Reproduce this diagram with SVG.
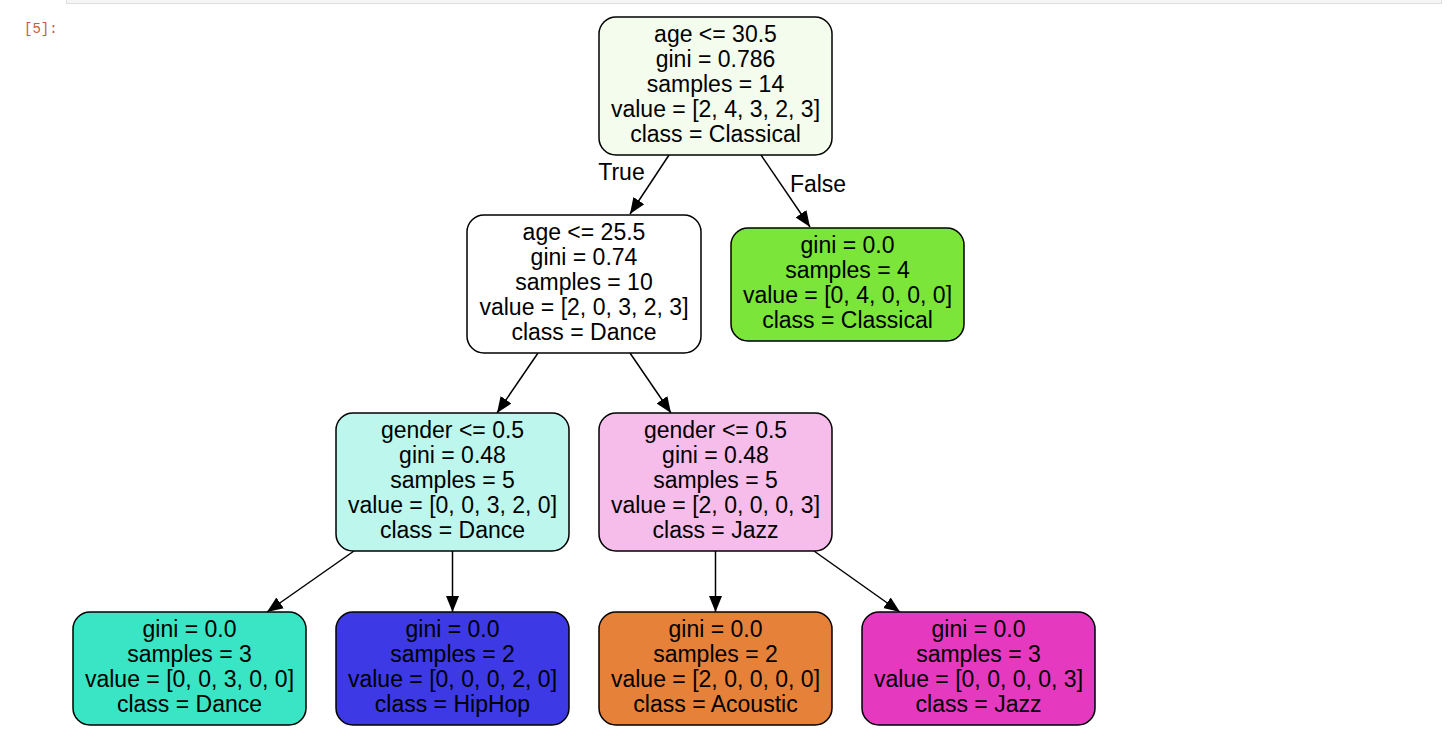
<svg xmlns="http://www.w3.org/2000/svg" width="1448" height="740" viewBox="0 0 1448 740">
<style>
  .box { stroke: #000; stroke-width: 1.5; }
  .t { font-family: "Liberation Sans", Arial, sans-serif; font-size: 23px; fill: #000; text-anchor: middle; }
  .edge { stroke: #000; stroke-width: 1.5; fill: none; marker-end: url(#arr); }
  .prompt { font-family: "Liberation Mono", "DejaVu Sans Mono", monospace; font-size: 14px; fill: #c0603f; }
</style>
<defs>
  <marker id="arr" markerUnits="userSpaceOnUse" markerWidth="17" markerHeight="14" refX="16" refY="7" orient="auto">
    <path d="M0,0.5 L16,7 L0,13.5 z" fill="#000"/>
  </marker>
</defs>
<rect width="1448" height="740" fill="#fff"/>
<rect x="66.5" y="-2" width="1375" height="5.5" fill="#f5f5f5" stroke="#e0e0e0" stroke-width="1"/>
<text class="prompt" x="24" y="33">[5]:</text>

<g id="connectors">
  <line class="edge" x1="669" y1="155" x2="630" y2="214"/>
  <line class="edge" x1="761" y1="155" x2="810" y2="227"/>
  <line class="edge" x1="538" y1="353" x2="497" y2="413"/>
  <line class="edge" x1="630" y1="353" x2="671" y2="413"/>
  <line class="edge" x1="354" y1="551" x2="267" y2="612"/>
  <line class="edge" x1="452.5" y1="551" x2="452.5" y2="612"/>
  <line class="edge" x1="715.5" y1="551" x2="715.5" y2="612"/>
  <line class="edge" x1="814" y1="551" x2="900" y2="612"/>
  <text class="t" x="621.5" y="180">True</text>
  <text class="t" x="818" y="192">False</text>
</g>

<g id="node0">
  <rect class="box" x="599" y="17" width="233" height="138" rx="17" fill="#f3fced"/>
  <text class="t" x="715.5" y="42">age &lt;= 30.5<tspan x="715.5" dy="24.9">gini = 0.786</tspan><tspan x="715.5" dy="24.9">samples = 14</tspan><tspan x="715.5" dy="24.9">value = [2, 4, 3, 2, 3]</tspan><tspan x="715.5" dy="24.9">class = Classical</tspan></text>
</g>
<g id="node1">
  <rect class="box" x="467" y="215" width="234" height="138" rx="17" fill="#ffffff"/>
  <text class="t" x="584" y="240">age &lt;= 25.5<tspan x="584" dy="24.9">gini = 0.74</tspan><tspan x="584" dy="24.9">samples = 10</tspan><tspan x="584" dy="24.9">value = [2, 0, 3, 2, 3]</tspan><tspan x="584" dy="24.9">class = Dance</tspan></text>
</g>
<g id="node2">
  <rect class="box" x="731" y="228" width="233" height="113" rx="17" fill="#7be539"/>
  <text class="t" x="847.5" y="253">gini = 0.0<tspan x="847.5" dy="24.9">samples = 4</tspan><tspan x="847.5" dy="24.9">value = [0, 4, 0, 0, 0]</tspan><tspan x="847.5" dy="24.9">class = Classical</tspan></text>
</g>
<g id="node3">
  <rect class="box" x="336" y="413" width="233" height="138" rx="17" fill="#bdf6ec"/>
  <text class="t" x="452.5" y="438">gender &lt;= 0.5<tspan x="452.5" dy="24.9">gini = 0.48</tspan><tspan x="452.5" dy="24.9">samples = 5</tspan><tspan x="452.5" dy="24.9">value = [0, 0, 3, 2, 0]</tspan><tspan x="452.5" dy="24.9">class = Dance</tspan></text>
</g>
<g id="node4">
  <rect class="box" x="599" y="413" width="233" height="138" rx="17" fill="#f6bdea"/>
  <text class="t" x="715.5" y="438">gender &lt;= 0.5<tspan x="715.5" dy="24.9">gini = 0.48</tspan><tspan x="715.5" dy="24.9">samples = 5</tspan><tspan x="715.5" dy="24.9">value = [2, 0, 0, 0, 3]</tspan><tspan x="715.5" dy="24.9">class = Jazz</tspan></text>
</g>
<g id="node5">
  <rect class="box" x="73" y="612" width="233" height="113" rx="17" fill="#39e5c5"/>
  <text class="t" x="189.5" y="637">gini = 0.0<tspan x="189.5" dy="24.9">samples = 3</tspan><tspan x="189.5" dy="24.9">value = [0, 0, 3, 0, 0]</tspan><tspan x="189.5" dy="24.9">class = Dance</tspan></text>
</g>
<g id="node6">
  <rect class="box" x="336" y="612" width="233" height="113" rx="17" fill="#3c39e5"/>
  <text class="t" x="452.5" y="637">gini = 0.0<tspan x="452.5" dy="24.9">samples = 2</tspan><tspan x="452.5" dy="24.9">value = [0, 0, 0, 2, 0]</tspan><tspan x="452.5" dy="24.9">class = HipHop</tspan></text>
</g>
<g id="node7">
  <rect class="box" x="599" y="612" width="233" height="113" rx="17" fill="#e58139"/>
  <text class="t" x="715.5" y="637">gini = 0.0<tspan x="715.5" dy="24.9">samples = 2</tspan><tspan x="715.5" dy="24.9">value = [2, 0, 0, 0, 0]</tspan><tspan x="715.5" dy="24.9">class = Acoustic</tspan></text>
</g>
<g id="node8">
  <rect class="box" x="862" y="612" width="233" height="113" rx="17" fill="#e539c0"/>
  <text class="t" x="978.5" y="637">gini = 0.0<tspan x="978.5" dy="24.9">samples = 3</tspan><tspan x="978.5" dy="24.9">value = [0, 0, 0, 0, 3]</tspan><tspan x="978.5" dy="24.9">class = Jazz</tspan></text>
</g>
</svg>
